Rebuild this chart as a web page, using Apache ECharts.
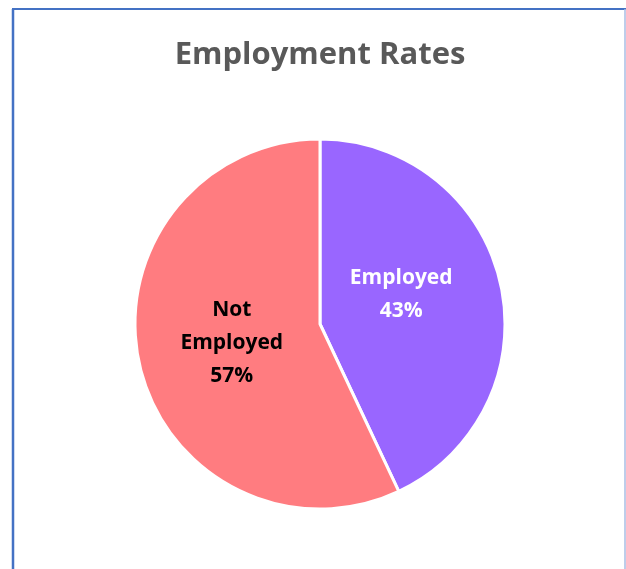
<!DOCTYPE html>
<html><head><meta charset="utf-8">
<script src="https://cdn.jsdelivr.net/npm/echarts@6/dist/echarts.min.js"></script>
<style>html,body{margin:0;padding:0;background:#fff}#c{width:626px;height:569px}</style>
</head><body><div id="c"></div>
<script>
const categories = ["Employed", "Not\nEmployed"];
const values = [43, 57];
const colors = ["#9966FF", "#FF7C80"];
const labelColors = ["#FFFFFF", "#000000"];
const titleText = "Employment Rates";

const chart = echarts.init(document.getElementById('c'));
chart.setOption({
  animation: false,
  title: {
    text: titleText, left: 315, top: 35, textAlign: 'center',
    textStyle: {fontFamily: 'Open Sans', fontWeight: 'bold', fontSize: 31, color: '#595959'}
  },
  graphic: [
    {type: 'line', shape: {x1: 13, y1: 9, x2: 13, y2: 569}, style: {stroke: '#4472C4', lineWidth: 2.5}},
    {type: 'line', shape: {x1: 12, y1: 9, x2: 626, y2: 9}, style: {stroke: '#4472C4', lineWidth: 2}},
    {type: 'line', shape: {x1: 625, y1: 9, x2: 625, y2: 569}, style: {stroke: '#A9BDE3', lineWidth: 1.5}}
  ],
  series: [{
    type: 'pie',
    center: [320, 324],
    radius: [0, 185],
    startAngle: 90,
    clockwise: true,
    data: categories.map((c, i) => ({
      name: c, value: values[i],
      itemStyle: {color: colors[i]},
      label: {color: labelColors[i]}
    })),
    itemStyle: {borderColor: '#fff', borderWidth: 3},
    label: {
      show: true, position: 'inside',
      formatter: p => p.name + '\n' + p.value + '%',
      fontFamily: 'Open Sans', fontWeight: 'bold', fontSize: 21, lineHeight: 33
    },
    labelLayout: p => p.dataIndex === 0 ? {dx: -12, dy: -9} : {dx: 5, dy: -2},
    labelLine: {show: false},
    emphasis: {disabled: true}
  }]
});
</script></body></html>
